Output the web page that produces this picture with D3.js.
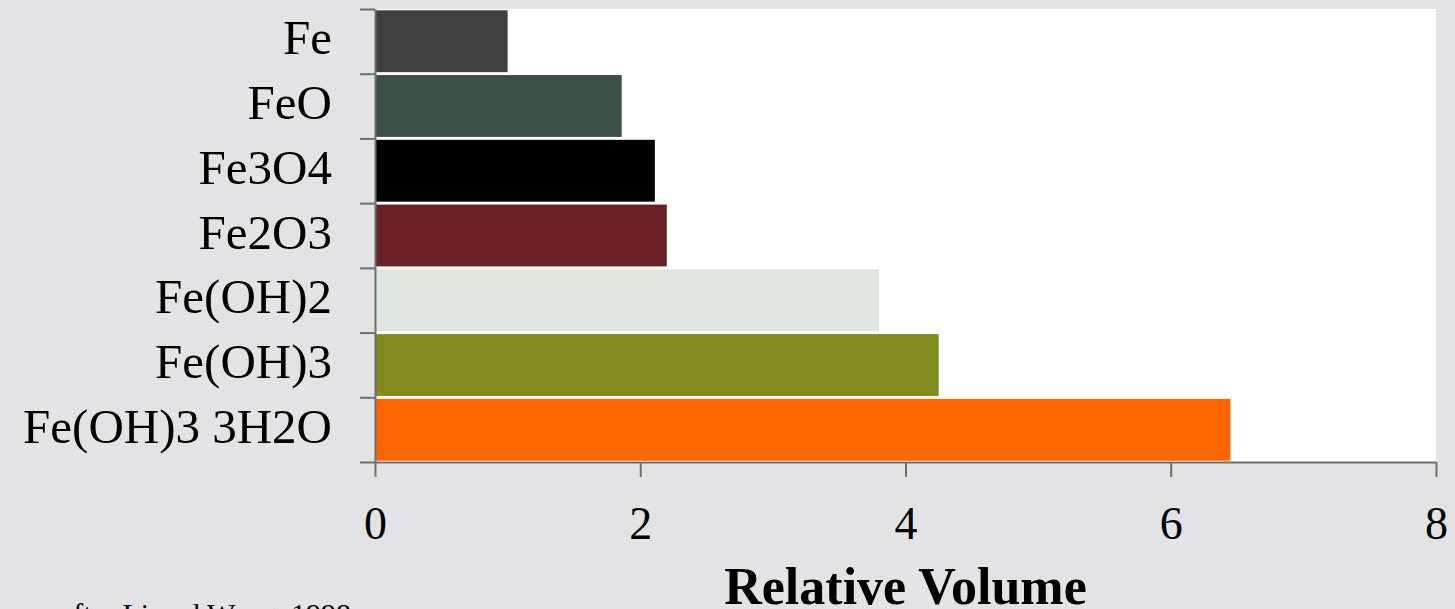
<!DOCTYPE html>
<html>
<head>
<meta charset="utf-8">
<script src="https://cdn.jsdelivr.net/npm/d3@7"></script>
<style>
  html, body { margin: 0; padding: 0; background: #e3e3e5; overflow: hidden; }
  svg { display: block; }
</style>
</head>
<body>
<svg id="chart" width="1455" height="609"></svg>
<script>
// Relative volume of iron and its corrosion products
const compounds = ["Fe", "FeO", "Fe3O4", "Fe2O3", "Fe(OH)2", "Fe(OH)3", "Fe(OH)3 3H2O"];
const relativeVolume = [1.0, 1.86, 2.11, 2.2, 3.8, 4.25, 6.45];
const barColors = ["#404040", "#3b4f44", "#000000", "#6a2027", "#dde6df", "#82891e", "#ff6600"];
const xTicks = [0, 2, 4, 6, 8];
const axisTitle = "Relative Volume";
const sourceNote = "after Li and Wang, 1998";

const svg = d3.select("#chart");
const margin = { left: 375, right: 19, top: 9, bottom: 147 };
const W = 1455, H = 609;
const plotW = W - margin.left - margin.right;
const plotH = H - margin.top - margin.bottom;

const x = d3.scaleLinear().domain([0, 8]).range([0, plotW]);
const y = d3.scaleBand().domain(compounds).range([0, plotH]).paddingInner(0.045).paddingOuter(0.02);
const yEdges = d3.scaleLinear().domain([0, compounds.length]).range([0, plotH]);

const g = svg.append("g").attr("transform", `translate(${margin.left},${margin.top})`);

// plot area
g.append("rect").attr("x", 0).attr("y", 0).attr("width", plotW).attr("height", plotH).attr("fill", "#ffffff");

// bars
g.selectAll("rect.bar").data(compounds).enter().append("rect")
  .attr("class", "bar")
  .attr("x", x(0))
  .attr("y", d => y(d))
  .attr("width", (d, i) => x(relativeVolume[i]) - x(0))
  .attr("height", y.bandwidth())
  .attr("fill", (d, i) => barColors[i]);

// category axis (ticks between categories)
const yAxis = g.append("g")
  .call(d3.axisLeft(yEdges).tickValues(d3.range(compounds.length + 1)).tickSize(15).tickSizeOuter(0).tickFormat(""));
yAxis.selectAll("path, line").attr("stroke", "#6e6e6e").attr("stroke-width", 2);

// category labels
g.selectAll("text.cat").data(compounds).enter().append("text")
  .attr("class", "cat")
  .attr("x", -43)
  .attr("y", d => y(d) + y.bandwidth() / 2 + 13)
  .attr("text-anchor", "end")
  .attr("font-family", "'Liberation Serif', serif")
  .attr("font-size", 49)
  .attr("fill", "#000")
  .text(d => d);

// value axis
const xAxis = g.append("g")
  .attr("transform", `translate(0,${plotH})`)
  .call(d3.axisBottom(x).tickValues(xTicks).tickSize(15).tickSizeOuter(0).tickPadding(29));
xAxis.selectAll("path, line").attr("stroke", "#6e6e6e").attr("stroke-width", 2);
xAxis.selectAll("text")
  .attr("font-family", "'Liberation Serif', serif")
  .attr("font-size", 46)
  .attr("fill", "#000");

// axis title
svg.append("text")
  .attr("x", margin.left + plotW / 2)
  .attr("y", 604)
  .attr("text-anchor", "middle")
  .attr("font-family", "'Liberation Serif', serif")
  .attr("font-weight", "bold")
  .attr("font-size", 52)
  .attr("fill", "#000")
  .text(axisTitle);

// source note
svg.append("text")
  .attr("x", 60)
  .attr("y", 624)
  .attr("font-family", "'Liberation Serif', serif")
  .attr("font-size", 30)
  .attr("fill", "#000")
  .text(sourceNote);
</script>
</body>
</html>
